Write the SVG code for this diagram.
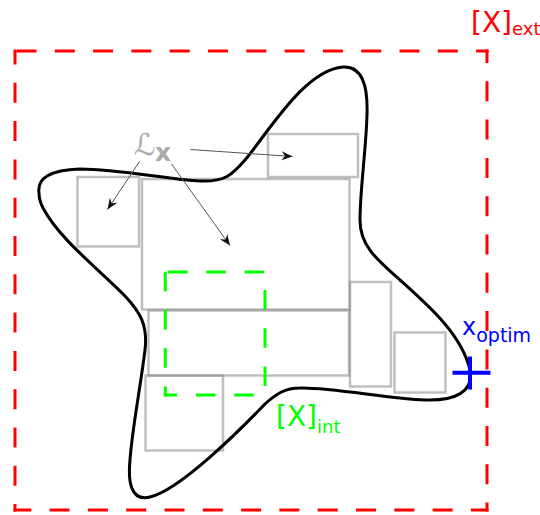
<svg xmlns="http://www.w3.org/2000/svg" width="540" height="515" viewBox="0 0 540 515">
  <style>
    .box { fill: none; stroke: #808080; stroke-opacity: 0.5; stroke-width: 2.5; }
    .ext { fill: none; stroke: #ff0000; stroke-width: 3; stroke-dasharray: 20 18.3; }
    .int { fill: none; stroke: #00ff00; stroke-width: 3; stroke-dasharray: 19.5 18.8; }
    .curve { fill: none; stroke: #000000; stroke-width: 3; stroke-linejoin: round; }
    .arrow { fill: none; stroke: #555555; stroke-width: 1; marker-end: url(#head); }
    .lbl { font-family: "DejaVu Sans", "Liberation Sans", sans-serif; }
  </style>
  <defs>
    <marker id="head" markerUnits="userSpaceOnUse" markerWidth="14" markerHeight="12" viewBox="-12 -6 14 12" refX="0" refY="0" orient="auto">
      <path d="M0,0 L-11,-4.5 L-7.5,0 L-11,4.5 Z" fill="#111111"/>
    </marker>
  </defs>
  <rect width="540" height="515" fill="#ffffff"/>

  <g id="cells">
    <rect class="box" x="268" y="134" width="90" height="43"/>
    <rect class="box" x="77.5" y="177" width="61.5" height="69.5"/>
    <rect class="box" x="142" y="179" width="207.5" height="130.5"/>
    <rect class="box" x="148.5" y="310.5" width="200.5" height="65"/>
    <rect class="box" x="145.5" y="375.5" width="77.5" height="75"/>
    <rect class="box" x="350" y="282" width="41" height="104.5"/>
    <rect class="box" x="394.5" y="332.5" width="51" height="60"/>
  </g>

  <g id="x-int">
    <path class="int" d="M163.8,272 H266.5" stroke-dashoffset="-4.2"/>
    <path class="int" d="M265,272 V396.5" stroke-dashoffset="-18"/>
    <path class="int" d="M165.3,270.5 V396.5" stroke-dashoffset="-1.2"/>
    <path class="int" d="M163.8,395 H266.5" stroke-dashoffset="6.1"/>
  </g>

  <g id="x-ext">
    <path class="ext" d="M13.5,51 H488.5" stroke-dashoffset="-3"/>
    <path class="ext" d="M487,49.5 V511.5" stroke-dashoffset="6.5"/>
    <path class="ext" d="M15,49.5 V511.5" stroke-dashoffset="5"/>
    <path class="ext" d="M13.5,510 H488.5" stroke-dashoffset="2.2"/>
  </g>

  <g id="set">
    <path class="curve" d="M39,193 C37,178 50,170 80,169 C120,169 170,180 200,181 C225,182 232,175 245,160 C270,130 305,70 343,67 C362,66 368,85 367,115 C366,150 360,190 360,220 C360,245 375,258 400,280 C430,307 462,335 470,370 C474,392 455,401 425,400 C390,399 330,387 300,388 C285,388 276,394 265,404 C240,430 180,490 150,497 C130,502 128,480 130,460 C132,430 140,390 145,350 C148,325 140,312 125,296 C100,270 60,240 43,208 C40,202 39,197 39,193 Z"/>
  </g>

  <g id="connectors">
    <line class="arrow" x1="190.5" y1="149.5" x2="292.5" y2="156.5"/>
    <line class="arrow" x1="139.5" y1="161.5" x2="107.5" y2="209.5"/>
    <line class="arrow" x1="171.5" y1="164" x2="230" y2="245.5"/>
  </g>

  <g id="label-L">
    <text class="lbl" x="134" y="155" font-size="30" fill="#aaaaaa">ℒ</text>
    <text class="lbl" x="155" y="161" font-size="25" font-weight="bold" fill="#aaaaaa">x</text>
  </g>

  <g id="label-ext">
    <text class="lbl" x="471" y="32" font-size="28" fill="#ff0000">[X]<tspan font-size="18" dy="3">ext</tspan></text>
  </g>

  <g id="label-int">
    <text class="lbl" x="276" y="426" font-size="28" fill="#00ff00">[X]<tspan font-size="18" dy="7">int</tspan></text>
  </g>

  <g id="x-optim">
    <text class="lbl" x="462" y="335" font-size="24" fill="#0000ff">x<tspan font-size="19" dy="6.5">optim</tspan></text>
    <path d="M452.5,372.7 H490.5 M470,356.5 V389.5" fill="none" stroke="#0000ff" stroke-width="4"/>
  </g>
</svg>
